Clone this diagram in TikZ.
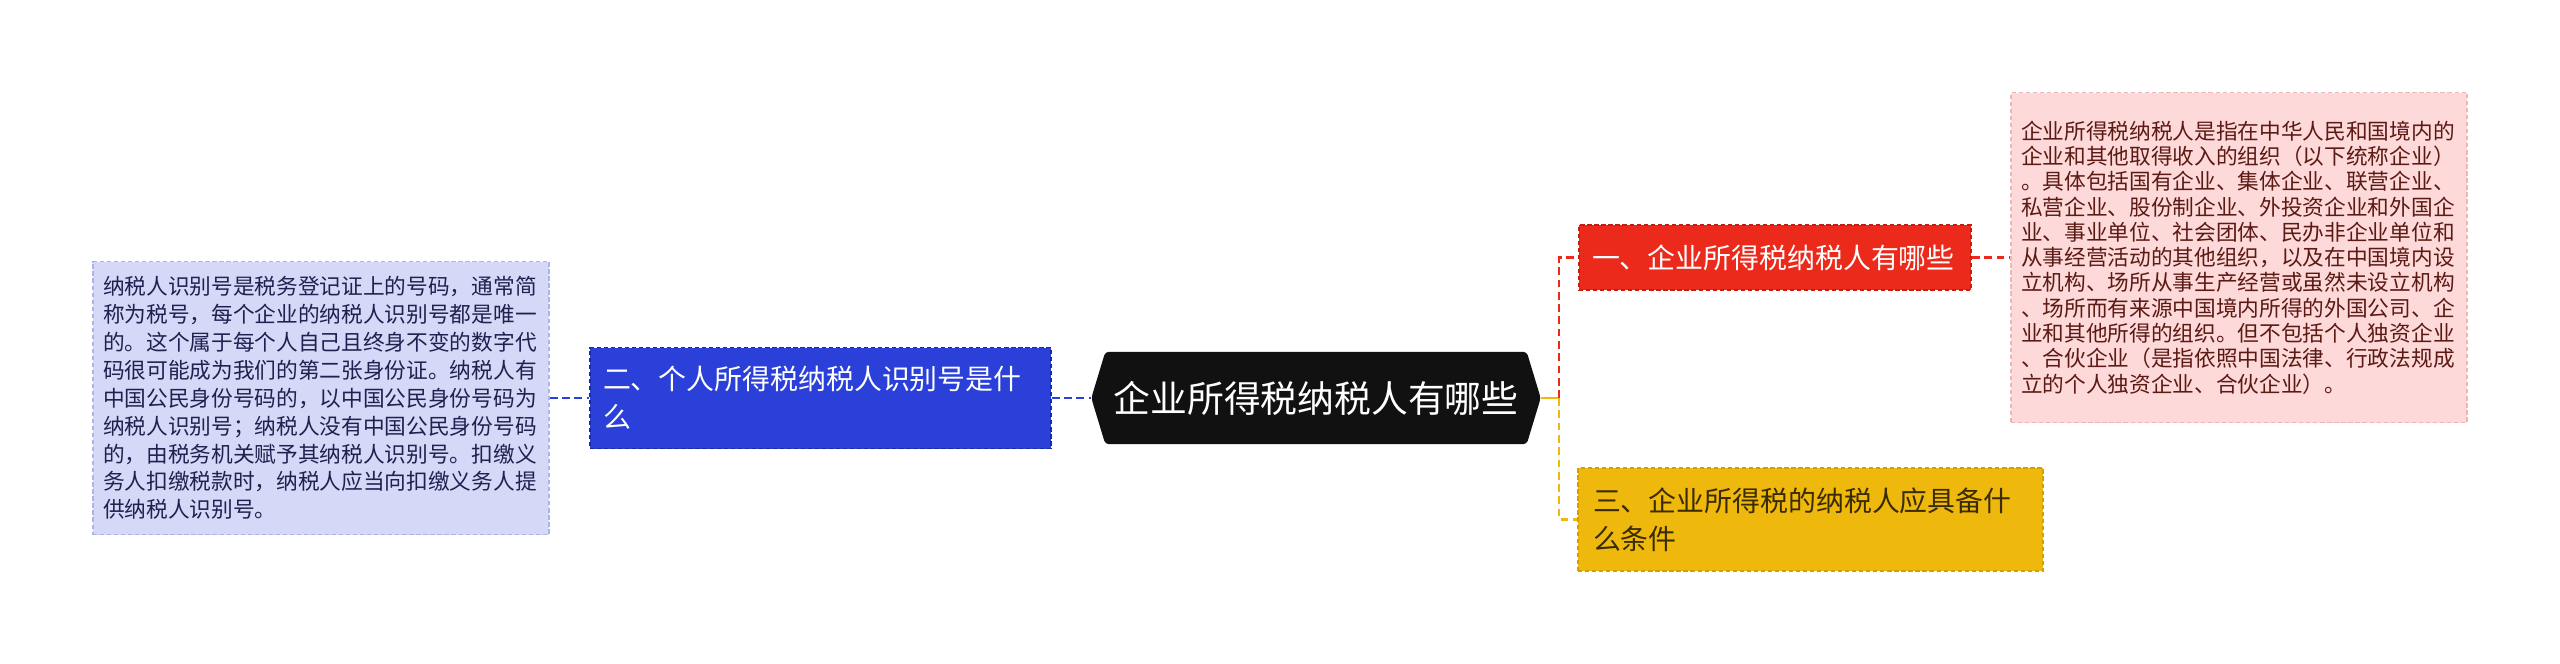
\documentclass[tikz,border=0pt]{standalone}
\usepackage{fontspec}
\setmainfont{Noto Sans CJK SC}
\usetikzlibrary{positioning, backgrounds}

\definecolor{rootblack}{HTML}{111111}
\definecolor{leafblue}{HTML}{D5D8F6}
\definecolor{leafblueline}{HTML}{AEB3E8}
\definecolor{leafbluetext}{HTML}{1F2150}
\definecolor{branchblue}{HTML}{2A40D8}
\definecolor{branchblueline}{HTML}{1A2BA6}
\definecolor{branchred}{HTML}{EC2A1C}
\definecolor{branchredline}{HTML}{C41D12}
\definecolor{branchyellow}{HTML}{EFB80C}
\definecolor{branchyellowline}{HTML}{D49F00}
\definecolor{branchyellowtext}{HTML}{3A2C00}
\definecolor{leafpink}{HTML}{FDD9D9}
\definecolor{leafpinkline}{HTML}{F0B5B5}
\definecolor{leafpinktext}{HTML}{5C1A14}

\begin{document}
\begin{tikzpicture}[
  rootbox/.style={inner sep=0pt, minimum width=4.48cm, minimum height=0.91cm,
    text=white, font=\fontsize{10.47pt}{12pt}\selectfont},
  branchbox/.style={rectangle, inner xsep=0.13cm, inner ysep=0pt, align=left,
    font=\fontsize{7.94pt}{10.9pt}\selectfont, line width=0.5pt,
    dash pattern=on 1.2pt off 0.8pt},
  leafbox/.style={rectangle, inner xsep=0.1cm, inner ysep=0pt, align=left,
    text width=4.36cm, minimum width=4.56cm, line width=0.5pt,
    dash pattern=on 1.2pt off 0.8pt},
  link/.style={line width=0.8pt, dash pattern=on 2.2pt off 1.3pt},
]

\useasboundingbox (0, 0) rectangle (25.6, -6.64);

% --- Central topic ---
\node[rootbox] (root) at (13.16, -3.98) {企业所得税纳税人有哪些};
\begin{scope}[on background layer]
  \fill[rootblack, rounded corners=1pt]
    ([xshift=0.14cm]root.north west) -- ([xshift=-0.14cm]root.north east)
    -- (root.east) -- ([xshift=-0.14cm]root.south east)
    -- ([xshift=0.14cm]root.south west) -- (root.west) -- cycle;
\end{scope}

% --- Left branch ---
\node[branchbox, fill=branchblue, draw=branchblueline, text=white,
  text width=4.35cm, minimum height=1.01cm] (blue) at (8.205, -3.98)
  {二、个人所得税纳税人识别号是什\\么};

\node[leafbox, fill=leafblue, draw=leafblueline, text=leafbluetext,
  minimum height=2.73cm, font=\fontsize{6.17pt}{7.94pt}\selectfont]
  (leafL) at (3.21, -3.98)
  {纳税人识别号是税务登记证上的号码，通常简\\
   称为税号，每个企业的纳税人识别号都是唯一\\
   的。这个属于每个人自己且终身不变的数字代\\
   码很可能成为我们的第二张身份证。纳税人有\\
   中国公民身份号码的，以中国公民身份号码为\\
   纳税人识别号；纳税人没有中国公民身份号码\\
   的，由税务机关赋予其纳税人识别号。扣缴义\\
   务人扣缴税款时，纳税人应当向扣缴义务人提\\
   供纳税人识别号。};

% --- Right branches ---
\node[branchbox, fill=branchred, draw=branchredline, text=white,
  text width=3.66cm, minimum height=0.65cm] (red) at (17.75, -2.575)
  {一、企业所得税纳税人有哪些};

\node[branchbox, fill=branchyellow, draw=branchyellowline,
  text=branchyellowtext, inner xsep=0.15cm, text width=4.35cm,
  minimum height=1.03cm] (yellow) at (18.105, -5.195)
  {三、企业所得税的纳税人应具备什\\么条件};

\node[leafbox, fill=leafpink, draw=leafpinkline, text=leafpinktext,
  minimum height=3.30cm, font=\fontsize{6.17pt}{7.2pt}\selectfont]
  (pink) at (22.39, -2.575)
  {企业所得税纳税人是指在中华人民和国境内的\\
   企业和其他取得收入的组织（以下统称企业）\\
   。具体包括国有企业、集体企业、联营企业、\\
   私营企业、股份制企业、外投资企业和外国企\\
   业、事业单位、社会团体、民办非企业单位和\\
   从事经营活动的其他组织，以及在中国境内设\\
   立机构、场所从事生产经营或虽然未设立机构\\
   、场所而有来源中国境内所得的外国公司、企\\
   业和其他所得的组织。但不包括个人独资企业\\
   、合伙企业（是指依照中国法律、行政法规成\\
   立的个人独资企业、合伙企业）。};

% --- Connectors ---
\coordinate (split) at (15.59, -3.98);
\draw[link, branchblue] (leafL.east) -- (blue.west);
\draw[link, branchblue] (blue.east) -- (root.west);
\draw[line width=0.8pt, branchyellow] (root.east) -- (split);
\draw[link, branchred] (split) |- (red.west);
\draw[link, branchyellow] (split) |- (yellow.west);
\draw[link, branchred] (red.east) -- (pink.west);

\end{tikzpicture}
\end{document}
